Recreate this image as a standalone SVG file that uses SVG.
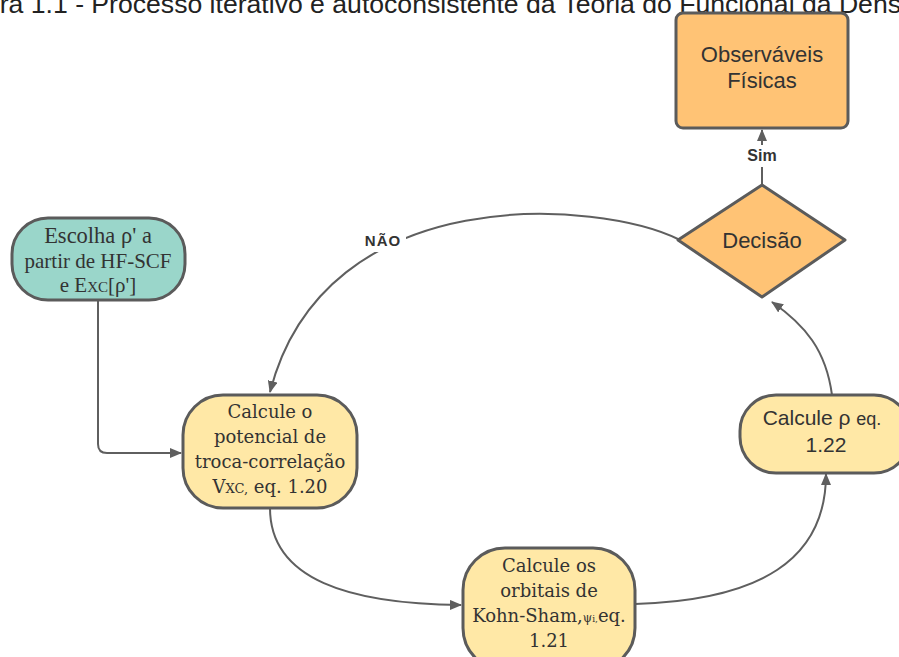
<svg xmlns="http://www.w3.org/2000/svg" width="899" height="657" viewBox="0 0 899 657">
<style>
.nd{stroke:#5b5b5b;stroke-width:3}
.yel{fill:#FFE8A6}
.org{fill:#FFC375}
.tea{fill:#9AD6CA}
.sans{font-family:"Liberation Sans",Arial,sans-serif;fill:#333}
.ser{font-family:"DejaVu Serif",serif;fill:#333;font-size:18px}
.tim{font-family:"Liberation Serif","Times New Roman",serif;fill:#333;font-size:21px}
.ln{fill:none;stroke:#5f5f5f;stroke-width:2}
.lbl{font-family:"Liberation Sans",Arial,sans-serif;font-weight:bold;fill:#333}
</style>
<defs>
<marker id="ah" viewBox="0 0 12 10" refX="11" refY="5" markerWidth="12" markerHeight="10" markerUnits="userSpaceOnUse" orient="auto">
<path d="M0,0 L12,5 L0,10 z" fill="#5f5f5f"/>
</marker>
</defs>
<rect width="899" height="657" fill="#fff"/>
<text x="-52" y="13" font-family="Liberation Sans,Arial,sans-serif" font-size="26.6" fill="#222">Figura 1.1 - Processo iterativo e autoconsistente da Teoria do Funcional da Densidade</text>

<g id="connectors">
<path class="ln" d="M98 300 V444 Q98 453 107 453 H181" marker-end="url(#ah)"/>
<path class="ln" d="M680 240 C600 200 325 178 270 392" marker-end="url(#ah)"/>
<path class="ln" d="M270 508 C270 580 350 604 461 605" marker-end="url(#ah)"/>
<path class="ln" d="M635 604 C760 600 826 560 826 474" marker-end="url(#ah)"/>
<path class="ln" d="M832 395 C826 350 805 325 772 302" marker-end="url(#ah)"/>
<path class="ln" d="M762 185 V130" marker-end="url(#ah)"/>
<rect x="742" y="145" width="40" height="22" fill="#fff"/>
<text class="lbl" x="762" y="161" font-size="16" text-anchor="middle">Sim</text>
<rect x="360" y="232" width="46" height="20" fill="#fff"/>
<text class="lbl" x="383" y="246" font-size="15" text-anchor="middle" letter-spacing="1">NÃO</text>
</g>

<g id="observaveis">
<rect class="nd org" x="676" y="13" width="172" height="115" rx="7"/>
<text class="sans" font-size="22" text-anchor="middle"><tspan x="762" y="62">Observáveis</tspan><tspan x="762" y="88">Físicas</tspan></text>
</g>

<g id="decisao">
<path class="nd org" d="M762 185 L845 240 L762 297 L678 240 Z" stroke-linejoin="round"/>
<text class="sans" x="762" y="248" font-size="22" text-anchor="middle">Decisão</text>
</g>

<g id="escolha">
<rect class="nd tea" x="12" y="218" width="173" height="82" rx="36"/>
<text class="tim" text-anchor="middle"><tspan x="98" y="243" font-size="22.5">Escolha ρ' a</tspan><tspan x="98" y="268">partir de HF-SCF</tspan><tspan x="98" y="292">e E<tspan font-size="15">XC</tspan>[ρ']</tspan></text>
</g>

<g id="potencial">
<rect class="nd yel" x="183" y="395" width="174" height="113" rx="40"/>
<text class="ser" text-anchor="middle"><tspan x="270" y="418">Calcule o</tspan><tspan x="270" y="443">potencial de</tspan><tspan x="270" y="468">troca-correlação</tspan><tspan x="270" y="493">V<tspan font-size="13">XC,</tspan> eq. 1.20</tspan></text>
</g>

<g id="kohnsham">
<rect class="nd yel" x="463" y="548" width="172" height="122" rx="42"/>
<text class="ser" text-anchor="middle"><tspan x="549" y="572">Calcule os</tspan><tspan x="549" y="597">orbitais de</tspan><tspan x="549" y="622">Kohn-Sham,<tspan font-size="12">ψ</tspan><tspan font-size="9">i,</tspan>eq.</tspan><tspan x="549" y="647">1.21</tspan></text>
</g>

<g id="calculerho">
<rect class="nd yel" x="740" y="395" width="170" height="78" rx="36"/>
<text class="sans" text-anchor="middle"><tspan x="822" y="425" font-size="21">Calcule ρ <tspan font-size="18">eq.</tspan></tspan><tspan x="826" y="452" font-size="21">1.22</tspan></text>
</g>
</svg>
